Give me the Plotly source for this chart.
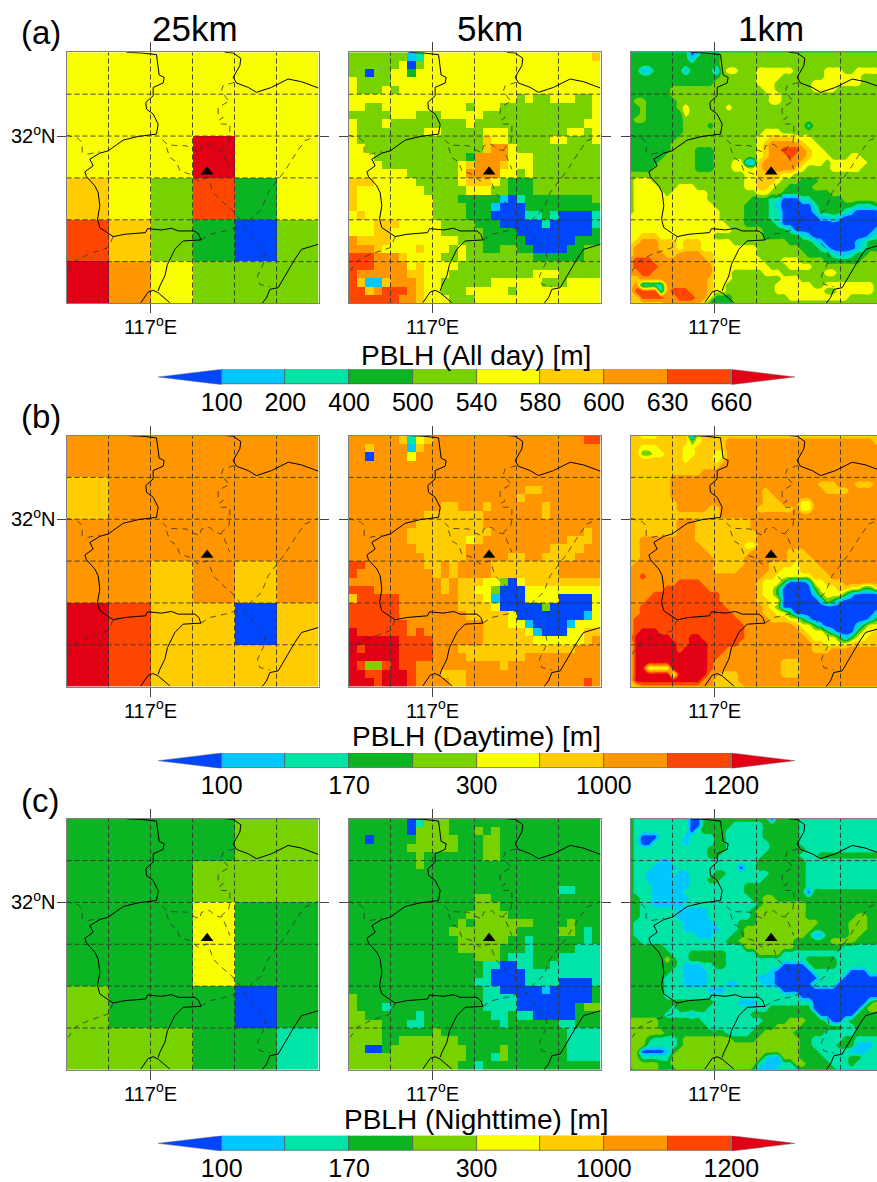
import plotly.graph_objects as go

# ---------- class colours (colour-bar order, low to high) ----------
CLASS_COLORS = ["#0046ff", "#00c8ff", "#00e4a8", "#0ab422", "#78d200",
                "#faff00", "#ffcc00", "#ff9600", "#ff4600", "#e10014"]

CBAR_LABELS_A = ["100", "200", "400", "500", "540", "580", "600", "630", "660"]
CBAR_LABELS_B = ["100", "", "170", "", "300", "", "1000", "", "1200"]
CBAR_TITLES = ["PBLH (All day) [m]", "PBLH (Daytime) [m]", "PBLH (Nighttime) [m]"]
ROW_TAGS = ["(a)", "(b)", "(c)"]
COLUMN_TITLES = ["25km", "5km", "1km"]

# ---------- gridded PBLH class per cell, north to south, "vxn" = value v repeated n times ----------
A25 = ["5x6", "5x6", "5x3 9 5x2", "6 5 4 8 3 5", "8 6 4 3 0 4", "9 7 5 4x3"]
B25 = ["7x6", "6 7x5", "7x6", "7x2 6 7 6 7", "9 8 6x2 0 6", "9 8 6x4"]
C25 = ["3x4 4x2", "3x3 4x3", "3x3 5 3x2", "3x3 5 3x2", "4 3x3 0 3", "4x3 3x2 2"]

A5 = [
 "4x7 1 2 5x20 6", "4x6 5 0 4 5x21", "4x2 0 4x2 5x2 3 5x22", "5 4x4 5x25", "5 4x3 5 4 5x24",
 "5x20 4 5 4x2 5x3 4x2 5", "5x2 4x2 5x10 4 5x3 4x11 5", "4x5 5x3 4x3 5x5 4x13 5",
 "5 4x3 5 4x9 5 4x13 5x2", "5 4x8 5x2 4x5 5x3 4x7 5x2 4 5", "5 4x15 6 5x2 4x5 5x2 4x3 5",
 "5x2 4x14 6 7x2 5 4x10", "5x3 4x11 3 7x4 5x3 4x8", "5x4 4x9 5 6 7x3 6 5x3 4x8",
 "5x7 4x6 5 7x4 5x2 4 5 4x8", "6x3 5x5 4x5 5 6x3 5 4 3x3 4x8", "6 5x8 4x5 5x3 4x2 3x3 4x8",
 "6 5x9 4x3 3x5 1 0 2 3x8 4", "6 5x9 4x4 3x3 1 0x3 3x9", "5 6 5x8 4x4 3x3 0x4 2x2 3 2 0x4 2",
 "5x3 6x3 5x5 4x4 3x3 0x5 2 0x5 2", "5x3 6x2 5x6 4x5 3x4 0x9 3", "7 6x4 5x8 4x3 3x5 0x6 3x3",
 "7x3 6 5x4 6 5x3 4 5 4x2 3x2 4x2 3x2 0x4 3x2 4x2", "8x3 7x3 6 5x4 4x2 5 4x8 3x6 4x2",
 "8x3 7x4 5 6 5x4 4x17", "8 7x6 6x2 5x3 4x10 5x3 4x5", "8 6 1x2 6 7x3 6 5x2 4x6 5x6 4x3 5x4",
 "8x2 6 7 8x3 7 6 5x2 4x3 5x5 4 5x10", "8x6 7x2 6 5x3 4x3 5x15",
]
B5 = [
 "7x6 6 2 5 6 7x18 8x2", "7x2 6 7x4 1 6 7x21", "7x2 0 7x4 5 7x22", "7x30", "7x30", "7x30",
 "7x21 6x2 7x7", "7x20 6 7x9", "7x11 6x2 7x3 6 7x6 6 7x6", "7x9 6x7 7x7 6 7x6", "7x8 6x8 7x14",
 "7x7 6x10 7x11 6 7", "7x7 6x7 5 6 7x10 6x3 7", "7x8 6x6 7x10 6x4 7x2", "7x9 6x5 7x5 6x2 7x2 6x4 7x3",
 "8x2 7x7 6x2 7 6 7x4 6x8 7x5", "8 7x9 6 7 6 7x4 6x8 7x5", "7x11 6 7 6x3 5x2 4 0 5 6x9",
 "8x3 7x8 6 7 6x2 5x2 4 0x3 5x9", "6 8x5 7x7 6x3 5 1 0x3 5x4 0x4 5", "8x6 7x7 6x4 5 0x5 4 0x5 5",
 "8x6 7x8 6x5 5 0x8 1 5", "8x7 7x9 6x3 5x2 1 0x4 1 5x3", "9 8x6 7 8 7x7 6x5 5 1 0x3 5x2 6x2",
 "9x6 8x4 7x6 6x6 5x6 6 7", "9 8 9x4 8x4 7x3 6x14 7x3", "9x6 8x4 7x4 6x7 7x9",
 "9 8 4x2 8 9 8x2 7x10 6 7x11", "9x2 8x2 9x3 8 7x3 6x3 7x16", "9x3 8 9x3 8 7x4 6x2 7x14 8 7",
]
C5 = [
 "3x7 0 2 4x3 3x18", "3x7 0 4x4 3x3 4 3 4 3x12", "3x2 0 3x5 4x5 3x3 4x2 3x12", "3x7 4x6 3x3 4x2 3x12",
 "3x8 4 3x7 4x2 3x12", "3x8 4 3x21", "3x30", "3x30", "3x25 2x2 3x3", "3x15 4x2 3x13", "3x15 4x3 3x12",
 "3x14 4x5 3x11", "3x13 4 3 4x7 3x4 4 3x3", "3x12 4x8 3x5 4x2 3 2 3", "3x13 4x6 3x2 2 3x6 2 3",
 "3x13 4x5 3x3 2 3x5 2x3", "3x15 4x3 3 2x3 3x3 2x5", "3x16 2x2 0x2 2x2 3x2 2x6", "3x16 2 0x4 2x9",
 "3x15 2x2 0x4 2x4 0x4 2", "3x16 2x2 0x5 1 0x5 3", "4 3x15 2x4 0x9 3", "4 3x3 2 3x11 2x4 0x7 3 4x2",
 "4x2 3x6 2 3x8 2x2 3 2x2 0x5 3x3", "4x4 3x3 2x2 3x9 2 3x6 2x2 3x3", "4x4 3x6 4 3x15 2x4",
 "4x4 3x2 4x7 3x13 2x4", "4x2 0x2 3 4x9 3x4 4 3x7 2x4", "4x14 3x3 2 4 3x7 2x4", "4x13 3x2 2 3x14",
]
A1 = [
 "3x10 0 1 3x3 4x27", "3x10 1 3x4 4x27", "3x15 4x27",
 "3x2 1x2 3x5 1 3x4 1 4 5x2 4x3 5x6 4x5 5x3 4x2 5x4 4",
 "3x15 4x6 5x4 4x4 4x3 5x6 4x4", "3x14 4x7 5x3 4x6 5x8 4x4", "3x7 4x15 5x2 4x6 5x4 4x8",
 "3x7 4x16 5x2 4x17", "3 4x2 3x5 4x15 5x2 4x17", "3x2 4 3x5 4 5 4x6 5 4x25", "3x2 4 3x6 5 4x32",
 "3 4x2 3x6 4x33", "3x9 4x4 3 4x15 2 4x12", "3x9 4x13 5x3 4x17", "3x8 4x13 5x2 6x4 5x3 4x12",
 "3x7 4x14 5 6 7x5 6 5x2 4x11", "3x7 4x4 3x3 4x7 5 6 7x2 8x3 7 6 5x2 4x10",
 "3x6 4x5 3x3 4x7 5 6 7x3 8 7x2 6 5x3 4x3 5x2 4x4",
 "3x5 4x6 3x3 4x3 5x2 1x2 6 7x6 6 5x3 4 5x6 4x3",
 "3x4 4x7 3x3 4x3 5x4 6 7x5 6 5 4x4 5x5 4x4", "4x19 5x2 6x4 5x2 4x15",
 "4 5x3 4x15 5x2 6x3 5 4x3 3x3 4x11", "4 5x4 4x3 5x3 4x8 5x2 6x2 5 4x2 3x4 4x12",
 "4 5x5 4 5x6 4x8 5x2 4x2 3x8 4x9", "4 5x12 4x7 3x3 2x2 0x3 2x2 3x5 4x7",
 "4 5x13 4x5 3x4 2 1 0x5 2 3x6 2x3 3 4", "4 5x14 4x4 3x4 2x2 0x5 1 3x4 2 1 0x4 1",
 "5x15 4x4 3x4 2x2 0x6 1x2 2 1 0x7", "5x16 4x3 3x5 2 0x17", "5x17 4x5 3x4 2 0x13 1 2",
 "5x2 6x3 5x9 4x8 3x6 2 1 0x9 1 2 3", "5 6 7x3 6x3 5 6x3 5x5 4x9 3x4 2 1 0x5 1 2 3x3",
 "6 7x4 6x3 5 6x3 5x6 5x3 4x7 3x3 2 1 0x4 1 2 3x3",
 "6 7x5 6x2 7x4 6x2 5x7 4x8 3x4 2 1x2 2 3x2 4x3", "7 8x3 7x4 7x5 6 5x8 4x3 5x3 4x4 3x6 4x4",
 "7 8x4 7x9 5x9 4x3 5x4 4x12", "7x2 8x2 7x10 5x3 4x5 5x3 4x7 5x2 4x8", "6x2 7x11 6 5x3 4x8 5x3 4x14",
 "6 7 2x4 7x7 6 5x2 4x8 5x6 4x2 5x8 4x2", "6 8x4 2 7 8x3 7x3 6 5x2 4x8 5x8 4x2 5x6 4x2",
 "6x2 8x4 7x2 8x3 7x2 5 3x3 4x9 5x10 4x6", "6x6 7x6 5 3x4 4x25",
]
B1 = [
 "6x2 5x3 6x5 0 5 6x30", "6x10 4 5 6x4 7x24 6x2", "6x2 5x3 6x4 5x2 6x3 6x2 7x26",
 "6x2 4x2 5x2 6x3 5x2 6x3 5x2 7x26", "6x9 5 6x4 5 6 7x26", "6x15 7x27", "6x12 7x30", "6x7 7x35",
 "6x7 7x24 6x3 7x3 6x3 7x2", "6x7 7x15 6 7x9 6x4 7x6", "6x7 7x15 6x2 7x18",
 "6x8 7x14 6x3 7x3 5x2 7x12", "6x8 7x5 6x2 7x6 6x6 7 5x2 7x12", "6x15 7x27", "6x8 7x3 6x9 7x22",
 "6x8 7x3 6x9 7x22", "6x8 7x3 6x10 7x21", "6x2 7x9 6x10 7x21", "6x2 7x10 6x7 5x2 7x21",
 "6x2 7x11 6x7 7x6 6x3 7x13", "6x2 7x12 6x5 7x7 6x4 7x12", "6 7x13 6x5 7x4 6x4 5 6x3 7x11",
 "7x14 6x4 7x5 6x2 5x3 6x4 7x10", "7x2 8 7x19 6x2 5x6 6x3 7x9",
 "7x8 8x4 7x9 6 5x3 3 0x3 1 5x2 6x3 7x7", "7x6 8x7 7x8 6 5x2 3 0x5 3 5x3 6x2 5x2 3x2 5 6",
 "7x4 8x11 7x6 6 5x2 3 0x5 1 4 5x3 3 1 0x4 1", "7x3 8x12 7x6 6x2 5x2 0x6 1 4 3 1 0x7",
 "7x2 8x14 7x6 6 5 4 0x17", "7x2 8x15 7x5 6x2 5x2 3 0x13 1 3", "7 8x17 7x5 6x3 5x2 3 1 0x9 1 3 5",
 "7 8x18 7x8 6 5x2 3 1 0x5 1 3 5x2 6", "7 8 9x3 8x14 7x9 6 5x3 3 1 0x3 3 5x2 6x2",
 "7 9x6 8x3 9x2 8x7 7x10 6 5x4 3 1 3 5x2 6x3", "6 9x7 8x2 9x3 8x5 7x12 6x2 5x4 6x6",
 "6 9x7 8 9x4 8x3 7x14 6x3 7x9", "6 9x12 8x2 7x27", "6 9x12 8 7x11 6x3 7x14",
 "6 9x2 5x4 9x6 8 7x11 6x3 7x14", "6 9x6 5 9x5 7x2 6x3 7x7 6x3 7x14", "6 9x11 7x2 6x4 7x24",
 "6x2 7x12 6x5 7x23",
]
C1 = [
 "3 2x9 0x2 3x11 0 3x4 2x14", "3 2x9 0x2 3x5 2x5 3x6 2x14", "3 2x9 0 2 3x4 2x6 3x6 2x14",
 "3 2 0x3 2x4 1 2x4 3x2 2x6 3x6 2x14", "3 2 0x2 2x5 1 2x4 3x2 2x7 3x5 2x14", "3 2x12 3x3 2x7 3x6 2x13",
 "3 2x12 3x2 2x7 3x6 2x3 3x11", "3 2x4 1x2 2x14 3x8 2x13", "3 2x3 1x4 2x10 0 2x2 3x8 2x13",
 "3 2x2 1x4 2 1x2 2x4 3x2 2x5 2x2 3x6 2x13", "3 2x2 1x7 2x3 3x2 2x7 3x7 2x13", "3 2x3 1x6 2x9 3x10 2x13",
 "3 2x3 1x5 2x10 3x10 0 3x12", "3x2 2x2 1x6 2x10 3x2 4x2 3x18", "3x2 2x2 1x5 2x12 3 4x7 3x13",
 "3x2 2x6 1x5 2x7 3 4x8 3x13", "3x2 2x6 1x5 2x7 3 4x8 3x8 4x2 3x3", "3 2x8 1x5 2x4 3x3 4x8 4x2 3x5 4x3 3x3",
 "3 2x8 1x6 2x3 3 4x2 4x9 3x6 4x3 3x3", "3 2x10 1x3 2x3 3x2 4x10 3 1x2 3x4 4x2 3x4",
 "3x2 2x14 3x2 4x9 3x6 4x3 4 3x5", "3x6 2x13 4x8 3x8 2x7", "3x7 2x3 3x6 2x5 4x4 2x17",
 "3x6 4 3 2x2 3x6 2x9 2x4 3x5 2x8", "3x8 2 1x3 2x2 3x2 2x9 0x4 2 3x4 2x8",
 "3x7 2x2 1x4 2x10 1 0x6 2x6 0x3 2x3", "3x6 2x3 1x4 2x8 1x3 0x7 2x4 0x6 2",
 "3x6 2x3 1x4 2x3 1x2 2x4 1x2 0x6 2x4 0x8", "3x6 2x7 1x3 2x8 2 0x17", "3x6 2x22 0x13 2",
 "3x14 2x4 1x3 2x8 2 0x9 3 4x2", "3x7 2 3x5 2x10 3x7 0x8 3 4x3", "3x6 2x4 1 2x9 3x9 3x2 0x6 3x5",
 "4x5 3x7 2x10 3x4 4x3 3x3 2 0x2 2 3x6", "4x5 3x8 2x8 3x3 4x4 3x7 2x2 3x5",
 "4x6 3x10 2x4 3x2 4x5 3x5 2x5 3x5", "4x3 3 2x4 3 4x8 3x4 4x7 3x2 2x5 3x2 2x5",
 "4x3 2x5 3 4x9 4x3 4x7 3x2 2x4 3x3 1x3 2x2", "4x2 0x4 1 3 4x14 4x6 3x3 2x5 1x3 2x3",
 "4x2 2x5 4x15 2 1x2 4x3 3x4 2x4 3x2 2x4", "4x5 3x2 4x14 2 1x3 2x2 4x2 3x4 2x3 3 2x5",
 "3 4x4 3x3 4x12 3 1x3 2x4 3x6 2x8",
]
GRIDS = [[A25, A5, A1], [B25, B5, B1], [C25, C5, C1]]
GRID_SIZES = [6, 30, 42]

# ---------- map extent and graticule (degrees) ----------
LON_WEST, LON_EAST = 116.5, 118.0
LAT_SOUTH, LAT_NORTH = 31.0, 32.5
GRID_LONS = [116.75, 117.0, 117.25, 117.5, 117.75]
GRID_LATS = [32.25, 32.0, 31.75, 31.5, 31.25]
STATION_LON, STATION_LAT = [117.337], [31.786]

# ---------- boundaries, measured on the map as (x, y) at 504 units per degree from the corner ----------
SOLID_LINES = [
 [(180,0),(225,2),(270,7),(273,30),(278,68),(293,75),(290,92),(260,105),(260,130),(238,150),(240,170),(260,185),
  (275,215),(270,245),(215,252),(170,263),(125,295),(100,302),(70,320),(80,340),(55,358),(60,372),(85,400),(95,420),
  (100,460),(93,500),(100,525),(140,552),(175,545),(237,540),(243,528),(285,532),(315,527),(335,535),(385,535),
  (397,545),(403,562),(350,565),(325,590),(303,635),(295,670),(280,700),(275,715)],
 [(223,750),(245,718),(260,713),(275,720),(310,750)],
 [(475,0),(500,2),(523,18),(520,40),(500,75),(510,92),(545,105),(570,120),(615,105),(665,80),(705,88),(756,107)],
 [(756,575),(705,590),(685,620),(665,655),(650,680),(635,705),(610,710),(600,735),(587,752)],
]
DASHED_LINES = [
 [(0,248),(35,258),(47,270),(47,305)],
 [(63,305),(100,298)],
 [(503,90),(470,100),(465,115),(480,138),(490,145),(455,165),(455,185),(470,195),(455,205),(465,215),(490,215),
  (490,250),(487,270),(465,290),(480,325),(490,350)],
 [(288,262),(305,278),(360,280),(375,290),(400,300),(405,280),(430,275),(445,290),(465,295)],
 [(300,285),(310,315),(330,328),(340,355),(370,365),(395,385),(425,375),(440,420),(465,445),(495,470),(520,500),
  (535,525),(565,565),(590,592),(597,620),(585,645),(573,670),(580,695),(610,702)],
 [(545,505),(585,470),(605,420),(655,355),(690,300),(715,265),(756,248)],
 [(403,562),(430,545),(475,535),(525,520)],
 [(140,552),(125,585),(65,605),(25,625),(5,655)],
]

# ---------- page layout (pixels) ----------
W, H = 877, 1182
PANEL_SIZE = 252
COL_LEFT = [66.5, 348.5, 630.5]
ROW_TOP = [52.5, 437, 821.5]
CBAR_LEFT, CBAR_RIGHT = 158, 795
CBAR_TOP = [370.5, 755.5, 1139.5]
CBAR_TITLE_Y = [357, 739, 1123]
TAG_Y = [33, 418, 803]
FONT = "Liberation Sans"


def decode(rows, n):
    out = []
    for row in rows:
        vals = []
        for tok in row.split():
            v, _, k = tok.partition("x")
            vals += [int(v)] * int(k or 1)
        vals = (vals + vals[-1:] * n)[:n]
        out.append(vals)
    return out


def to_lonlat(line):
    return ([LON_WEST + p[0] / 504 for p in line], [LAT_NORTH - p[1] / 501.5 for p in line])


def joined(lines):
    xs, ys = [], []
    for line in lines:
        x, y = to_lonlat(line)
        xs += x + [None]
        ys += y + [None]
    return xs, ys


n_cls = len(CLASS_COLORS)
colorscale = []
for i, c in enumerate(CLASS_COLORS):
    colorscale += [[i / n_cls, c], [(i + 1) / n_cls, c]]

grat_x, grat_y = [], []
for lon in GRID_LONS:
    grat_x += [lon, lon, None]
    grat_y += [LAT_SOUTH, LAT_NORTH, None]
for lat in GRID_LATS:
    grat_x += [LON_WEST, LON_EAST, None]
    grat_y += [lat, lat, None]
solid_x, solid_y = joined(SOLID_LINES)
dash_x, dash_y = joined(DASHED_LINES)

fig = go.Figure()
layout = dict(width=W, height=H, margin=dict(l=0, r=0, t=0, b=0), showlegend=False,
              paper_bgcolor="white", plot_bgcolor="white", font=dict(family=FONT, color="black"))
annotations = []
axis_no = 0


def ax_key(prefix, n):
    return prefix + ("" if n == 1 else str(n))


for r in range(3):
    for c in range(3):
        axis_no += 1
        n = GRID_SIZES[c]
        z = decode(GRIDS[r][c], n)
        xa, ya = ("x" + ("" if axis_no == 1 else str(axis_no)), "y" + ("" if axis_no == 1 else str(axis_no)))
        common = dict(xaxis=xa, yaxis=ya, showlegend=False, hoverinfo="skip")
        if c < 2:
            step = (LON_EAST - LON_WEST) / n
            step_y = (LAT_NORTH - LAT_SOUTH) / n
            xs = [LON_WEST + (i + 0.5) * step for i in range(n)]
            ys = [LAT_NORTH - (j + 0.5) * step_y for j in range(n)]
            fig.add_trace(go.Heatmap(x=xs, y=ys, z=z, zmin=-0.5, zmax=9.5, colorscale=colorscale,
                                     showscale=False, xaxis=xa, yaxis=ya, hoverinfo="skip"))
        else:
            # the finest grid: filled class contours from edge to edge of the map
            xs = [LON_WEST + i * (LON_EAST - LON_WEST) / (n - 1) for i in range(n)]
            ys = [LAT_NORTH - j * (LAT_NORTH - LAT_SOUTH) / (n - 1) for j in range(n)]
            fig.add_trace(go.Contour(x=xs, y=ys, z=z, zmin=-0.5, zmax=9.5, autocontour=False,
                                     contours=dict(start=0.5, end=8.5, size=1, coloring="fill"),
                                     line=dict(width=0), colorscale=colorscale,
                                     showscale=False, xaxis=xa, yaxis=ya, hoverinfo="skip"))
        fig.add_trace(go.Scatter(x=grat_x, y=grat_y, mode="lines",
                                 line=dict(color="#333333", width=0.9, dash="5px,3px"), **common))
        fig.add_trace(go.Scatter(x=dash_x, y=dash_y, mode="lines",
                                 line=dict(color="#333333", width=0.8, dash="6px,5px"), **common))
        fig.add_trace(go.Scatter(x=solid_x, y=solid_y, mode="lines",
                                 line=dict(color="black", width=1), **common))
        fig.add_trace(go.Scatter(x=STATION_LON, y=STATION_LAT, mode="markers",
                                 marker=dict(symbol="triangle-up", size=11, color="black"), **common))
        left = COL_LEFT[c]
        right = min(left + PANEL_SIZE, W)
        lon_end = LON_WEST + (right - left) / PANEL_SIZE * (LON_EAST - LON_WEST)
        top = ROW_TOP[r]
        clipped = right < left + PANEL_SIZE
        layout[ax_key("xaxis", axis_no)] = dict(
            domain=[left / W, right / W], range=[LON_WEST, lon_end], anchor=ya,
            tickmode="array", tickvals=[117.0], ticktext=["117<sup>o</sup>E"], ticks="outside", ticklen=9,
            tickwidth=1, tickcolor="#444", tickfont=dict(size=20, family=FONT), showgrid=False, zeroline=False,
            ticklabelstandoff=-3, showline=True, linecolor="#808080", linewidth=1, mirror="ticks")
        layout[ax_key("yaxis", axis_no)] = dict(
            domain=[1 - (top + PANEL_SIZE) / H, 1 - top / H], range=[LAT_SOUTH, LAT_NORTH], anchor=xa,
            tickmode="array", tickvals=[32.0], ticktext=["32<sup>o</sup>N"], showticklabels=c == 0, ticks="outside",
            ticklen=9, tickwidth=1, tickcolor="#444", tickfont=dict(size=20, family=FONT), showgrid=False,
            ticklabelstandoff=-3, zeroline=False, showline=True, linecolor="#808080", linewidth=1,
            mirror=False if clipped else "ticks")

    # colour bar of this row, built on its own axes
    axis_no += 1
    xa, ya = "x" + str(axis_no), "y" + str(axis_no)
    labels = CBAR_LABELS_A if r == 0 else CBAR_LABELS_B
    mid = CLASS_COLORS[1:-1]
    fig.add_trace(go.Bar(x=[i + 0.5 for i in range(len(mid))], y=[1] * len(mid), width=1, marker=dict(
        color=mid, line=dict(color="#555555", width=0.7)), xaxis=xa, yaxis=ya, hoverinfo="skip"))
    for tip_x, col in ((-1, CLASS_COLORS[0]), (len(mid) + 1, CLASS_COLORS[-1])):
        base = 0 if tip_x < 0 else len(mid)
        fig.add_trace(go.Scatter(x=[base, tip_x, base, base], y=[0, 0.5, 1, 0], mode="lines", fill="toself",
                                 fillcolor=col, line=dict(color="#777777", width=0.5), xaxis=xa, yaxis=ya,
                                 hoverinfo="skip"))
    top = CBAR_TOP[r]
    shown = [i for i, t in enumerate(labels) if t]
    layout[ax_key("xaxis", axis_no)] = dict(
        domain=[CBAR_LEFT / W, CBAR_RIGHT / W], range=[-1, len(mid) + 1], anchor=ya, tickmode="array",
        tickvals=shown, ticktext=[labels[i] for i in shown], ticks="", tickfont=dict(size=25, family=FONT),
        showgrid=False, zeroline=False, showline=False)
    layout[ax_key("yaxis", axis_no)] = dict(
        domain=[1 - (top + 15.5) / H, 1 - top / H], range=[0, 1], anchor=xa, showticklabels=False, ticks="",
        showgrid=False, zeroline=False, showline=False)
    annotations.append(dict(text=CBAR_TITLES[r], xref="paper", yref="paper", x=476 / W, y=1 - CBAR_TITLE_Y[r] / H,
                            xanchor="center", yanchor="middle", showarrow=False, font=dict(size=28, family=FONT)))
    annotations.append(dict(text=ROW_TAGS[r], xref="paper", yref="paper", x=19 / W, y=1 - TAG_Y[r] / H,
                            xanchor="left", yanchor="middle", showarrow=False, font=dict(size=33, family=FONT)))

for c, t in enumerate(COLUMN_TITLES):
    annotations.append(dict(text=t, xref="paper", yref="paper", x=[195, 490, 771][c] / W, y=1 - 29 / H,
                            xanchor="center", yanchor="middle", showarrow=False, font=dict(size=35, family=FONT)))

layout["annotations"] = annotations
layout["bargap"] = 0
fig.update_layout(**layout)
fig.write_html("out.html", config=dict(displayModeBar=False),
               post_script="document.body.style.margin='0';document.body.style.overflow='hidden';")
